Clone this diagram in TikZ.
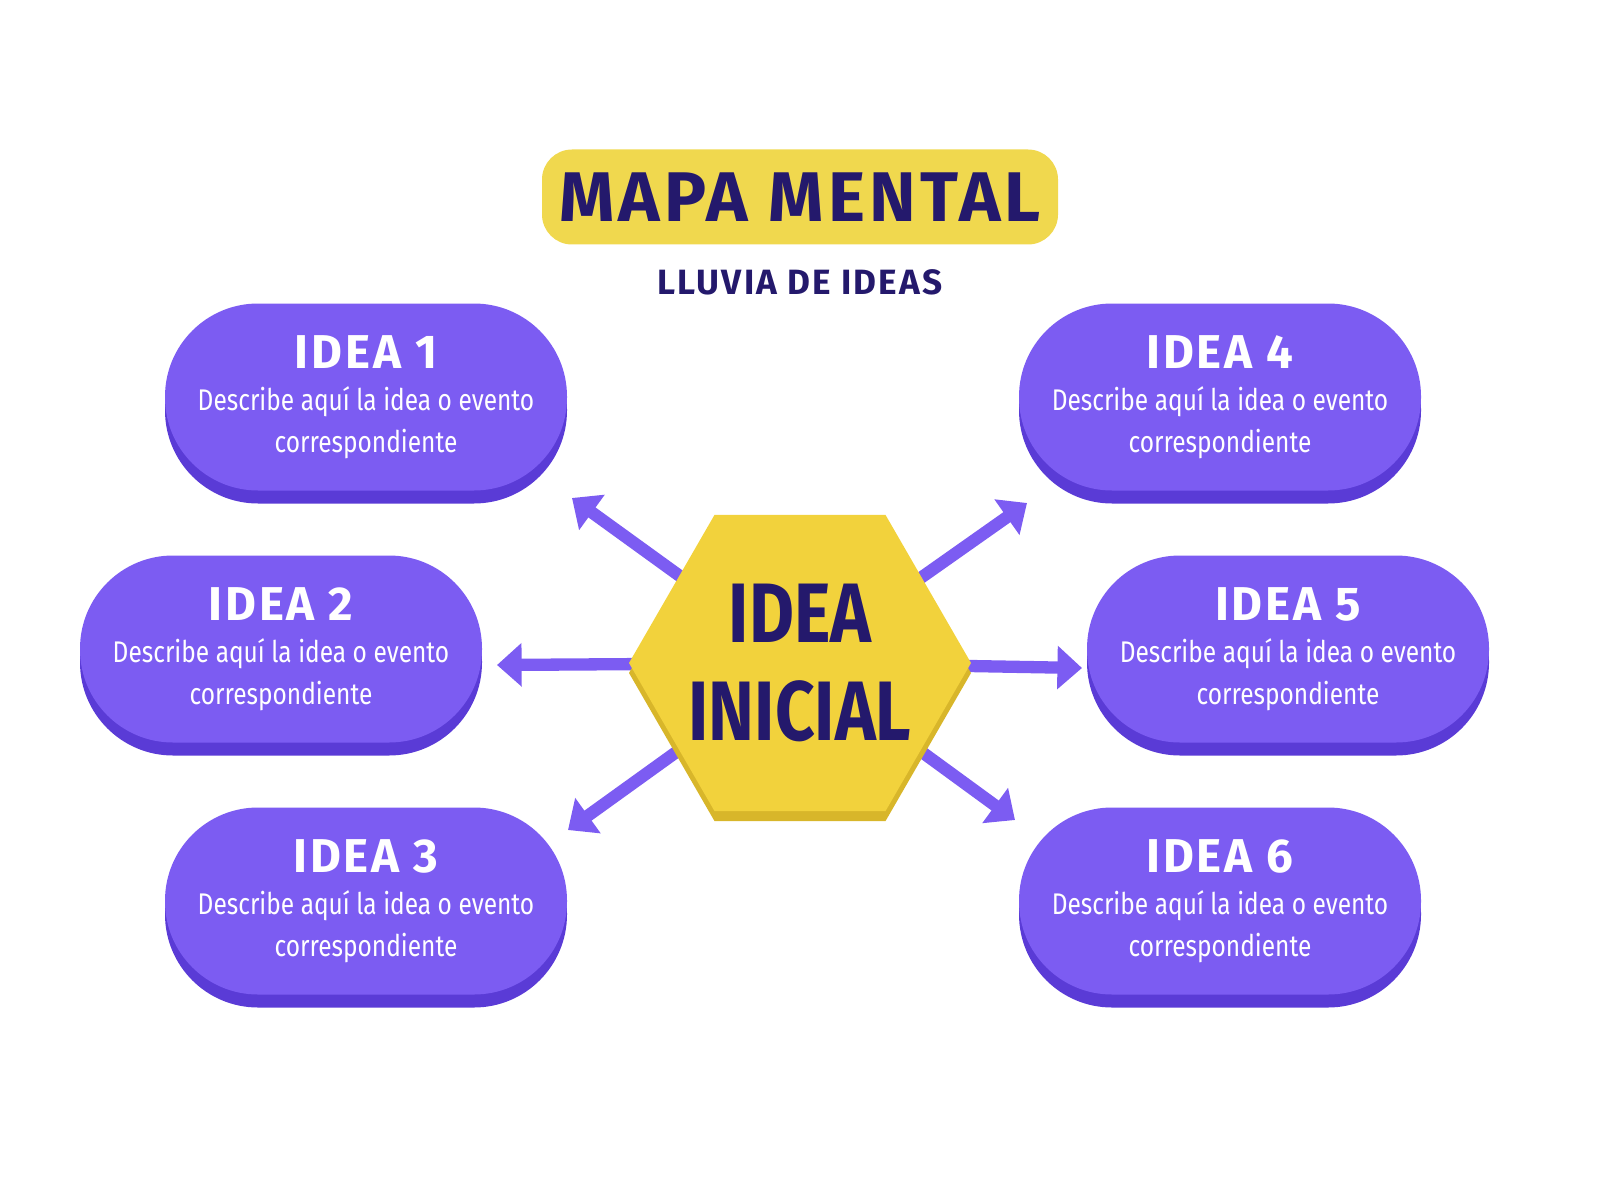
\documentclass[tikz,border=0pt]{standalone}
\usepackage{fontspec}
\setmainfont{Fira Sans}[FakeStretch=0.82]
\newfontfamily\titlefont{Fira Sans}[LetterSpace=6]
\usetikzlibrary{arrows.meta}
\usetikzlibrary{shapes}
\usetikzlibrary{positioning}
\definecolor{ideapurple}{HTML}{7C5CF2}
\definecolor{ideadark}{HTML}{5A3BD6}
\definecolor{titleyellow}{HTML}{F0D84E}
\definecolor{hexyellow}{HTML}{F2D23C}
\definecolor{hexdark}{HTML}{D8B62A}
\definecolor{navy}{HTML}{24196C}
\tikzset{
  pill/.style={rectangle,rounded corners=0.93cm,minimum width=4.02cm,minimum height=1.87cm,
    fill=ideapurple,text=white,align=center,inner sep=0pt},
  pillshadow/.style={pill,fill=ideadark,yshift=-0.13cm},
  hexa/.style={regular polygon,regular polygon sides=6,minimum size=3.42cm,inner sep=0pt},
  spoke/.style={draw=ideapurple,line width=3.5pt,-{Triangle[length=7pt,width=12pt]}},
}
\newcommand{\ideatext}[1]{\titlefont\fontsize{13.5}{18}\selectfont\bfseries IDEA #1\\
  \fontsize{8.5}{10}\selectfont\mdseries Describe aquí la idea o evento\\
  \fontsize{8.5}{10}\selectfont\mdseries correspondiente}
\begin{document}
\begin{tikzpicture}
\useasboundingbox (0,0) rectangle (16,12);
% title
\node[fill=titleyellow,rounded corners=0.3cm,minimum width=5.16cm,minimum height=0.95cm,
  text=navy,font=\titlefont\fontsize{20}{24}\selectfont\bfseries] (title) at (8,10.03) {MAPA MENTAL};
\node[text=navy,font=\titlefont\fontsize{10}{12}\selectfont\bfseries,below=0.12cm of title] (sub) {LLUVIA DE IDEAS};
% ideas
\foreach \n/\x/\y in {1/3.66/8.03,2/2.81/5.51,3/3.66/2.99,4/12.20/8.03,5/12.88/5.51,6/12.20/2.99}{
  \node[pillshadow] (s\n) at (\x,\y) {};
  \node[pill] (i\n) at (\x,\y) {\ideatext{\n}};
}
% spokes
\coordinate (hc) at (8,5.37);
\coordinate (e1) at (5.72,7.02);
\coordinate (e2) at (4.97,5.35);
\coordinate (e3) at (5.68,3.70);
\coordinate (e4) at (10.27,6.97);
\coordinate (e5) at (10.82,5.32);
\coordinate (e6) at (10.15,3.80);
\foreach \e in {e1,e2,e3,e4,e5,e6}
  \draw[spoke] (hc) -- (\e);
% centre
\node[hexa,fill=hexdark,yshift=-0.1cm] (hexs) at (hc) {};
\node[hexa,fill=hexyellow] (hex) at (hc) {};
\node[text=navy,align=center,font=\fontsize{24}{28}\selectfont\bfseries] (hexlabel) at (hex.center) {IDEA\\INICIAL};
\end{tikzpicture}
\end{document}
